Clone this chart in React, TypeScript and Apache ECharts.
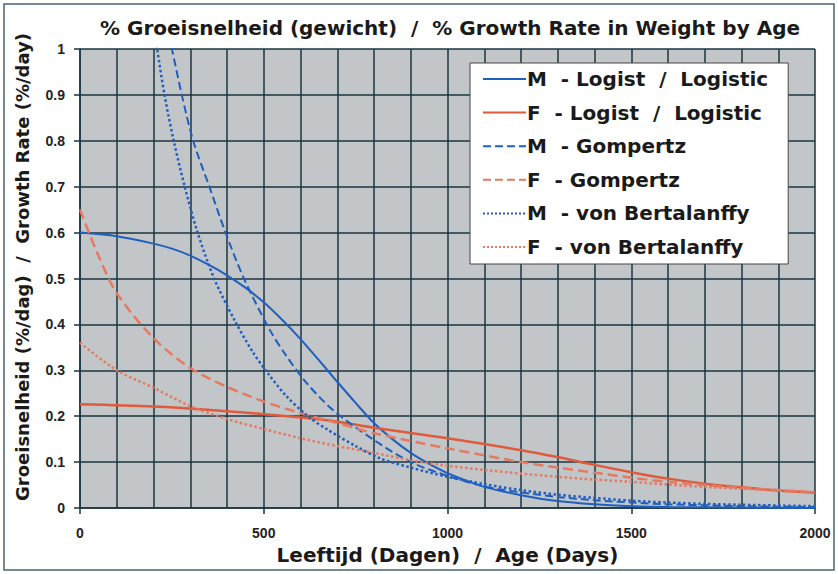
import React, { useEffect, useRef } from "react";
import * as echarts from "echarts";

const titleText = "% Groeisnelheid (gewicht)  /  % Growth Rate in Weight by Age";
const xAxisTitle = "Leeftijd (Dagen)  /  Age (Days)";
const yAxisTitle = "Groeisnelheid (%/dag)  /  Growth Rate (%/day)";

const seriesNames = [
  "M  - Logist  /  Logistic",
  "F  - Logist  /  Logistic",
  "M  - Gompertz",
  "F  - Gompertz",
  "M  - von Bertalanffy",
  "F  - von Bertalanffy",
];

// [day, %/day]
const mLogistic: [number, number][] = [
  [0, 0.6], [100, 0.592], [200, 0.576], [250, 0.565], [300, 0.55], [350, 0.53],
  [400, 0.507], [450, 0.48], [500, 0.448], [550, 0.41], [600, 0.368], [650, 0.322],
  [700, 0.275], [750, 0.229], [800, 0.185], [850, 0.15], [900, 0.12], [950, 0.096],
  [1000, 0.076], [1100, 0.046], [1200, 0.028], [1300, 0.015], [1400, 0.008],
  [1500, 0.004], [1600, 0.002], [1800, 0.001], [2000, 0.0],
];
const fLogistic: [number, number][] = [
  [0, 0.226], [200, 0.221], [400, 0.211], [600, 0.197], [700, 0.188], [800, 0.175],
  [1000, 0.152], [1200, 0.126], [1300, 0.111], [1400, 0.094], [1500, 0.078],
  [1600, 0.064], [1700, 0.053], [1800, 0.045], [1900, 0.038], [2000, 0.033],
];
const mGompertz: [number, number][] = [
  [240, 1.03], [250, 1.0], [277, 0.9], [308, 0.8], [352, 0.7], [396, 0.6], [446, 0.5],
  [515, 0.39], [560, 0.333], [617, 0.272], [689, 0.213], [800, 0.148], [900, 0.1],
  [1000, 0.07], [1100, 0.047], [1200, 0.034], [1300, 0.024], [1400, 0.017],
  [1500, 0.012], [1600, 0.008], [1700, 0.006], [1800, 0.004], [2000, 0.002],
];
const fGompertz: [number, number][] = [
  [0, 0.65], [50, 0.55], [100, 0.468], [200, 0.37], [300, 0.305], [400, 0.264],
  [500, 0.232], [600, 0.207], [700, 0.185], [800, 0.163], [1000, 0.13], [1200, 0.1],
  [1300, 0.088], [1400, 0.077], [1500, 0.066], [1600, 0.057], [1700, 0.05],
  [1800, 0.044], [1900, 0.039], [2000, 0.034],
];
const mBertalanffy: [number, number][] = [
  [205, 1.03], [210, 1.0], [230, 0.9], [255, 0.8], [285, 0.7], [320, 0.6], [365, 0.5],
  [420, 0.41], [470, 0.34], [510, 0.295], [560, 0.245], [620, 0.2], [675, 0.17],
  [750, 0.135], [817, 0.108], [900, 0.088], [1000, 0.068], [1100, 0.052], [1200, 0.039],
  [1300, 0.029], [1400, 0.022], [1500, 0.016], [1600, 0.012], [1700, 0.009],
  [1800, 0.007], [2000, 0.004],
];
const fBertalanffy: [number, number][] = [
  [0, 0.36], [100, 0.3], [200, 0.262], [300, 0.222], [400, 0.194], [500, 0.172],
  [600, 0.152], [700, 0.135], [800, 0.12], [900, 0.104], [1000, 0.092], [1100, 0.083],
  [1200, 0.075], [1300, 0.068], [1400, 0.062], [1500, 0.057], [1600, 0.051],
  [1700, 0.046], [1800, 0.042], [1900, 0.038], [2000, 0.034],
];

const seriesData = [mLogistic, fLogistic, mGompertz, fGompertz, mBertalanffy, fBertalanffy];

const BLUE = "#1f5fc0";
const RED = "#e05a3c";
const RED_LIGHT = "#e47a62";
const GRID = "#1a3540";
const FONT = "Liberation Sans, Arial, sans-serif";
const WIDE = "DejaVu Sans, Verdana, sans-serif";

const styles: { color: string; type: string; width: number }[] = [
  { color: BLUE, type: "solid", width: 2 },
  { color: RED, type: "solid", width: 2.5 },
  { color: BLUE, type: "dashed", width: 2 },
  { color: RED_LIGHT, type: "dashed", width: 2.5 },
  { color: BLUE, type: "dotted", width: 2.5 },
  { color: RED_LIGHT, type: "dotted", width: 2.5 },
];

export default function App() {
  const ref = useRef<HTMLDivElement>(null);
  useEffect(() => {
    if (!ref.current) return;
    const chart = echarts.init(ref.current, undefined, { renderer: "svg" });
    const gridLine = { show: true, lineStyle: { color: GRID, width: 1.5 } };
    chart.setOption({
      animation: false,
      backgroundColor: "#ffffff",
      textStyle: { fontFamily: FONT },
      title: {
        text: titleText,
        left: 445,
        top: 13,
        textAlign: "center",
        textStyle: { fontSize: 20, fontWeight: "bold", color: "#1a1a1a", fontFamily: WIDE },
      },
      graphic: [
        {
          type: "rect",
          shape: { x: 4, y: 4, width: 830, height: 566 },
          style: { fill: "none", stroke: "#4a6470", lineWidth: 1.5 },
          silent: true,
        },
        {
          type: "text",
          x: 22,
          y: 267,
          rotation: Math.PI / 2,
          style: {
            text: yAxisTitle,
            fill: "#1a1a1a",
            font: "bold 18px DejaVu Sans, Verdana, sans-serif",
            align: "center",
            verticalAlign: "middle",
          },
          silent: true,
        },
      ],
      legend: {
        orient: "vertical",
        left: 470,
        top: 63,
        width: 320,
        backgroundColor: "#ffffff",
        borderColor: "#444",
        borderWidth: 1,
        padding: [6, 20, 7, 12],
        itemWidth: 43,
        itemHeight: 14,
        itemGap: 13.6,
        itemStyle: { opacity: 0 },
        textStyle: { fontSize: 20, fontWeight: "bold", color: "#1a1a1a", fontFamily: WIDE, padding: [0, 0, 0, -4] },
        data: seriesNames,
      },
      grid: { left: 80, top: 49, right: 23, bottom: 66, show: true, backgroundColor: "#c3c6c8", borderWidth: 0 },
      xAxis: {
        type: "value",
        min: 0,
        max: 2000,
        interval: 500,
        name: xAxisTitle,
        nameLocation: "middle",
        nameGap: 37,
        nameTextStyle: { fontSize: 20, fontWeight: "bold", color: "#1a1a1a", fontFamily: WIDE },
        axisLine: { show: true, lineStyle: { color: GRID, width: 1.5 } },
        axisTick: { show: true, length: 6, lineStyle: { color: GRID, width: 1.5 } },
        axisLabel: {
          fontSize: 14,
          fontWeight: "bold",
          color: "#222",
          margin: 18,
          fontFamily: FONT,
          formatter: (v: number) => String(v),
        },
        splitLine: gridLine,
        minorTick: { show: false, splitNumber: 5 },
        minorSplitLine: gridLine,
      },
      yAxis: {
        type: "value",
        min: 0,
        max: 1,
        interval: 0.1,
        axisLine: { show: true, lineStyle: { color: GRID, width: 1.5 } },
        axisTick: { show: true, length: 6, lineStyle: { color: GRID, width: 1.5 } },
        axisLabel: {
          fontSize: 14,
          fontWeight: "bold",
          color: "#222",
          margin: 15,
          fontFamily: FONT,
          formatter: (v: number) => String(Math.round(v * 10) / 10),
        },
        splitLine: gridLine,
      },
      series: seriesNames.map((name, i) => ({
        name,
        type: "line",
        data: seriesData[i],
        smooth: 0.3,
        showSymbol: false,
        symbol: "none",
        clip: true,
        color: styles[i].color,
        lineStyle: { color: styles[i].color, type: styles[i].type, width: styles[i].width },
      })),
    });
    return () => chart.dispose();
  }, []);
  return (
    <div
      ref={ref}
      style={{ position: "fixed", left: 0, top: 0, width: 838, height: 574 }}
    />
  );
}
